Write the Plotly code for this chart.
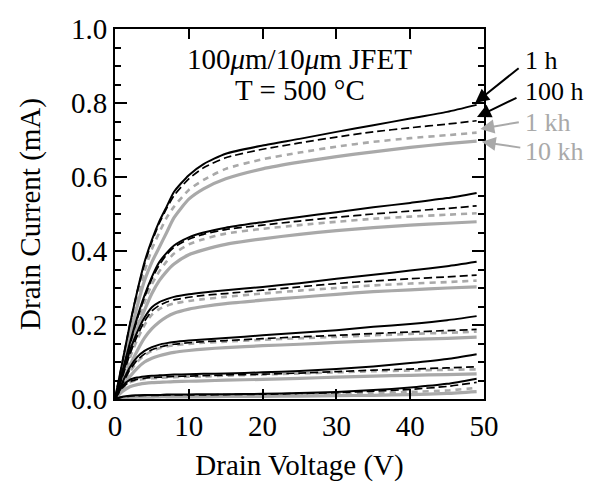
import plotly.graph_objects as go

# Drain voltage grid (V)
vd = [0, 1, 2, 3, 4, 5, 6, 7, 8, 10, 12, 15, 20, 25, 30, 35, 40, 45, 49]

# Drain current (mA), six gate-voltage families, four aging times each
g1_1h   = [0, 0.10, 0.20, 0.29, 0.37, 0.43, 0.48, 0.52, 0.56, 0.605, 0.635, 0.663, 0.685, 0.703, 0.722, 0.740, 0.758, 0.776, 0.795]
g1_100h = [0, 0.10, 0.20, 0.29, 0.365, 0.425, 0.475, 0.515, 0.55, 0.595, 0.625, 0.652, 0.675, 0.692, 0.708, 0.722, 0.733, 0.743, 0.752]
g1_1kh  = [0, 0.09, 0.18, 0.27, 0.345, 0.405, 0.45, 0.49, 0.52, 0.565, 0.592, 0.622, 0.648, 0.666, 0.682, 0.695, 0.705, 0.713, 0.720]
g1_10kh = [0, 0.085, 0.17, 0.25, 0.32, 0.37, 0.41, 0.45, 0.49, 0.54, 0.568, 0.595, 0.622, 0.640, 0.655, 0.668, 0.680, 0.690, 0.697]

g2_1h   = [0, 0.075, 0.15, 0.22, 0.28, 0.33, 0.37, 0.395, 0.415, 0.437, 0.450, 0.463, 0.478, 0.492, 0.505, 0.518, 0.530, 0.543, 0.557]
g2_100h = [0, 0.073, 0.145, 0.215, 0.275, 0.325, 0.362, 0.39, 0.41, 0.432, 0.445, 0.458, 0.470, 0.481, 0.491, 0.500, 0.508, 0.515, 0.522]
g2_1kh  = [0, 0.07, 0.14, 0.205, 0.262, 0.31, 0.345, 0.372, 0.393, 0.418, 0.432, 0.447, 0.460, 0.470, 0.479, 0.487, 0.493, 0.498, 0.502]
g2_10kh = [0, 0.065, 0.13, 0.19, 0.24, 0.285, 0.32, 0.345, 0.365, 0.39, 0.403, 0.418, 0.433, 0.445, 0.455, 0.463, 0.470, 0.475, 0.479]

g3_1h   = [0, 0.065, 0.13, 0.18, 0.22, 0.248, 0.262, 0.27, 0.276, 0.283, 0.288, 0.294, 0.303, 0.313, 0.325, 0.336, 0.347, 0.359, 0.371]
g3_100h = [0, 0.06, 0.12, 0.17, 0.21, 0.238, 0.253, 0.262, 0.268, 0.275, 0.280, 0.285, 0.294, 0.303, 0.312, 0.319, 0.325, 0.330, 0.335]
g3_1kh  = [0, 0.055, 0.11, 0.16, 0.20, 0.228, 0.243, 0.252, 0.258, 0.265, 0.270, 0.276, 0.285, 0.293, 0.300, 0.307, 0.312, 0.316, 0.320]
g3_10kh = [0, 0.045, 0.09, 0.13, 0.165, 0.19, 0.208, 0.222, 0.232, 0.243, 0.250, 0.258, 0.267, 0.275, 0.283, 0.290, 0.295, 0.300, 0.303]

g4_1h   = [0, 0.045, 0.085, 0.113, 0.13, 0.14, 0.147, 0.151, 0.154, 0.158, 0.161, 0.165, 0.172, 0.179, 0.186, 0.195, 0.203, 0.213, 0.224]
g4_100h = [0, 0.04, 0.078, 0.105, 0.122, 0.133, 0.14, 0.145, 0.148, 0.152, 0.155, 0.158, 0.163, 0.168, 0.172, 0.177, 0.181, 0.185, 0.188]
g4_1kh  = [0, 0.037, 0.073, 0.10, 0.118, 0.13, 0.137, 0.142, 0.145, 0.149, 0.152, 0.155, 0.160, 0.164, 0.168, 0.172, 0.176, 0.179, 0.182]
g4_10kh = [0, 0.03, 0.06, 0.083, 0.10, 0.11, 0.117, 0.122, 0.126, 0.131, 0.135, 0.139, 0.144, 0.148, 0.153, 0.157, 0.161, 0.164, 0.167]

g5_1h   = [0, 0.035, 0.052, 0.058, 0.061, 0.063, 0.064, 0.065, 0.066, 0.067, 0.068, 0.069, 0.072, 0.076, 0.081, 0.088, 0.097, 0.108, 0.121]
g5_100h = [0, 0.03, 0.047, 0.053, 0.056, 0.058, 0.059, 0.060, 0.061, 0.062, 0.063, 0.065, 0.067, 0.070, 0.074, 0.078, 0.081, 0.084, 0.087]
g5_1kh  = [0, 0.028, 0.045, 0.051, 0.054, 0.056, 0.057, 0.058, 0.059, 0.060, 0.061, 0.063, 0.066, 0.069, 0.072, 0.075, 0.077, 0.079, 0.080]
g5_10kh = [0, 0.02, 0.033, 0.039, 0.042, 0.044, 0.045, 0.046, 0.047, 0.048, 0.049, 0.051, 0.053, 0.056, 0.059, 0.062, 0.064, 0.066, 0.068]

g6_1h   = [0, 0.006, 0.009, 0.010, 0.011, 0.011, 0.011, 0.012, 0.012, 0.012, 0.013, 0.013, 0.014, 0.016, 0.019, 0.024, 0.031, 0.041, 0.055]
g6_100h = [0, 0.005, 0.008, 0.009, 0.010, 0.010, 0.010, 0.011, 0.011, 0.011, 0.011, 0.012, 0.013, 0.015, 0.017, 0.021, 0.026, 0.034, 0.045]
g6_1kh  = [0, 0.004, 0.007, 0.008, 0.008, 0.009, 0.009, 0.009, 0.009, 0.010, 0.010, 0.010, 0.011, 0.012, 0.014, 0.016, 0.019, 0.023, 0.030]
g6_10kh = [0, 0.003, 0.004, 0.005, 0.005, 0.005, 0.006, 0.006, 0.006, 0.006, 0.006, 0.007, 0.007, 0.008, 0.009, 0.010, 0.012, 0.015, 0.020]

families = {
    "10 kh": [g1_10kh, g2_10kh, g3_10kh, g4_10kh, g5_10kh, g6_10kh],
    "1 kh":  [g1_1kh, g2_1kh, g3_1kh, g4_1kh, g5_1kh, g6_1kh],
    "100 h": [g1_100h, g2_100h, g3_100h, g4_100h, g5_100h, g6_100h],
    "1 h":   [g1_1h, g2_1h, g3_1h, g4_1h, g5_1h, g6_1h],
}

GRAY = "#a9a9a9"
styles = {
    "10 kh": dict(color=GRAY, width=3.2, dash="solid"),
    "1 kh":  dict(color=GRAY, width=2.6, dash="6px,5px"),
    "100 h": dict(color="black", width=1.7, dash="8px,4px"),
    "1 h":   dict(color="black", width=2.0, dash="solid"),
}

fig = go.Figure()
for name, curves in families.items():
    for c in curves:
        fig.add_trace(go.Scatter(x=vd, y=c, mode="lines", line=dict(shape="spline", smoothing=0.6, **styles[name]),
                                 showlegend=False, hoverinfo="skip"))

FONT = "Liberation Serif, Times New Roman, serif"

# page body has an 8px default margin, so the figure is sized/offset accordingly
fig.update_layout(
    width=579, height=474,
    margin=dict(l=107, r=103, t=21, b=83),
    paper_bgcolor="white", plot_bgcolor="white",
    font=dict(family=FONT, size=29, color="black"),
    xaxis=dict(range=[0, 50], tickvals=[0, 10, 20, 30, 40, 50], ticks="inside", ticklen=10, tickwidth=1.5,
               tickcolor="black", showline=True, linecolor="black", linewidth=2, mirror="ticks",
               showgrid=False, zeroline=False, tickfont=dict(size=29), automargin=False,
               title=dict(text="Drain Voltage (V)", font=dict(size=29), standoff=14)),
    yaxis=dict(range=[0, 1.0], tickvals=[0, 0.2, 0.4, 0.6, 0.8, 1.0], tickformat=".1f", ticks="inside",
               ticklen=12, tickwidth=1.5, tickcolor="black", showline=True, linecolor="black", linewidth=2,
               mirror="ticks", showgrid=False, zeroline=False, tickfont=dict(size=29), automargin=False,
               minor=dict(dtick=0.05, ticks="inside", ticklen=6, tickwidth=1.5, tickcolor="black", showgrid=False),
               title=dict(text="Drain Current (mA)", font=dict(size=29), standoff=22)),
)

# Header text
fig.add_annotation(x=0.5, y=0.92, xref="paper", yref="paper", showarrow=False, yanchor="middle", borderpad=0,
                   text="100<i>μ</i>m/10<i>μ</i>m JFET", font=dict(size=29))
fig.add_annotation(x=0.5, y=0.835, xref="paper", yref="paper", showarrow=False, yanchor="middle", borderpad=0,
                   text="T = 500 °C", font=dict(size=29))

# Labels with arrows
labels = [
    ("1 h", "black", 48.8, 0.800, 45, -36, 0.916),
    ("100 h", "black", 49.05, 0.762, 41, -20, 0.83),
    ("1 kh", GRAY, 49.5, 0.730, 40, -7, 0.748),
    ("10 kh", GRAY, 49.7, 0.695, 40, 6, 0.670),
]
for txt, col, hx, hy, ax, ay, ty in labels:
    fig.add_annotation(x=hx, y=hy, xref="x", yref="y", ax=ax, ay=ay, axref="pixel", ayref="pixel",
                       text="", showarrow=True, arrowhead=2, arrowsize=1.4, arrowwidth=2, arrowcolor=col)
    fig.add_annotation(x=1.108, y=ty, xref="paper", yref="paper", xanchor="left", yanchor="middle",
                       showarrow=False, borderpad=0, text=txt, font=dict(size=26, color=col))

fig.write_html("out.html")
